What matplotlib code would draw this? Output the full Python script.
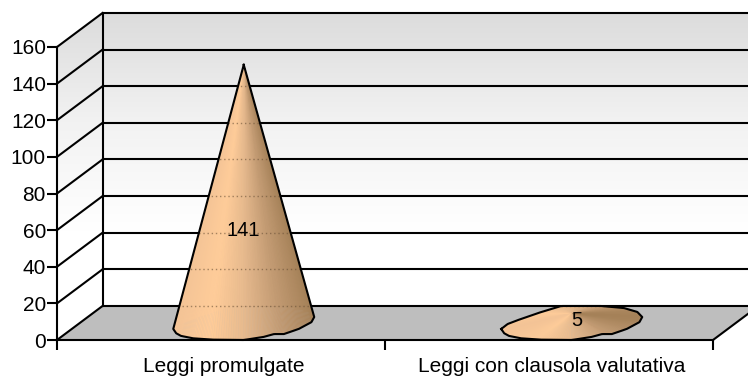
import numpy as np
import matplotlib
matplotlib.use('Agg')
import matplotlib.pyplot as plt
from matplotlib.colors import LinearSegmentedColormap
from matplotlib.patches import Polygon

plt.rcParams['font.family'] = ['Liberation Sans', 'DejaVu Sans']

# Data
categories = ['Leggi promulgate', 'Leggi con clausola valutativa']
values = [141, 5]
y_ticks = [0, 20, 40, 60, 80, 100, 120, 140, 160]

# Wobbly cone base (fractions of the base radii, going round)
base_u = [-1.0, -0.96, -0.89, -0.72, -0.45, 0.0, 0.28, 0.43, 0.57, 0.78, 0.96, 1.0,
          0.93, 0.74, 0.42, -0.15, -0.43, -0.72, -0.91]
base_v = [-0.35, -0.6, -0.76, -0.9, -0.98, -1.0, -0.82, -0.65, -0.65, -0.35, 0.05, 0.35,
          0.65, 0.88, 1.0, 1.0, 0.65, 0.24, -0.06]

W, H = 748, 378
LINE = 1.5

fig = plt.figure(figsize=(W / 100, H / 100), dpi=100)
ax = fig.add_axes([57 / W, 1 - 340 / H, (713 - 57) / W, (340 - 47) / H])
ax.set_xlim(0, 2)
ax.set_ylim(0, 160)

# 3D depth expressed in data units
depth_x = 45.5 / 328
depth_y = 34 / (293 / 160)
top = y_ticks[-1]

# Walls with the grey to white gradient
wall_cmap = LinearSegmentedColormap.from_list('wall', ['#ffffff', '#ffffff', '#f2f2f2', '#dcdcdc'])
gradient = np.linspace(1, 0, 256).reshape(-1, 1)
walls = [
    [(0, 0), (depth_x, depth_y), (depth_x, top + depth_y), (0, top)],
    [(depth_x, depth_y), (2 + depth_x, depth_y), (2 + depth_x, top + depth_y), (depth_x, top + depth_y)],
]
for wall in walls:
    im = ax.imshow(gradient, cmap=wall_cmap, vmin=0, vmax=1, aspect='auto', zorder=1,
                   extent=[0, 2 + depth_x, 0, top + depth_y])
    im.set_clip_box(fig.bbox)
    im.set_clip_path(Polygon(wall, transform=ax.transData))
ax.set_xlim(0, 2)
ax.set_ylim(0, 160)

# Floor
ax.add_patch(Polygon([(0, 0), (2, 0), (2 + depth_x, depth_y), (depth_x, depth_y)],
                     facecolor='#bebebe', edgecolor='none', zorder=2, clip_on=False))

# Grid on the side wall and back wall
for t in y_ticks:
    ax.plot([0, depth_x], [t, t + depth_y], color='black', lw=LINE, zorder=3, clip_on=False)
    ax.plot([depth_x, 2 + depth_x], [t + depth_y, t + depth_y], color='black', lw=LINE, zorder=3, clip_on=False)
ax.plot([depth_x, depth_x], [depth_y, top + depth_y], color='black', lw=LINE, zorder=3, clip_on=False)
ax.plot([2, 2 + depth_x], [0, depth_y], color='black', lw=LINE, zorder=3, clip_on=False)

# Cones
cone_cmap = LinearSegmentedColormap.from_list('cone', ['#f4c496', '#ffcc99', '#e6b98d', '#c49c74', '#a58158'])
radius_x = 70.5 / 328
radius_y = 17 / (293 / 160)

closed_u = np.array(base_u + base_u[:1])
closed_v = np.array(base_v + base_v[:1])
steps = np.arange(len(closed_u))
fine = np.linspace(0, len(base_u), 241)
outline_u = np.interp(fine, steps, closed_u)
outline_v = np.interp(fine, steps, closed_v)

for i, val in enumerate(values):
    cx = i + 0.5 + depth_x / 2
    cy = depth_y / 2
    apex = (cx, val + cy)
    xs = cx + outline_u * radius_x
    ys = cy + outline_v * radius_y
    # paint the back of the base first, the front last
    order = np.argsort(-outline_v[:-1])
    for k in order:
        tri = [apex, (xs[k], ys[k]), (xs[k + 1], ys[k + 1])]
        col = cone_cmap((outline_u[k] + 1) / 2)
        ax.add_patch(Polygon(tri, facecolor=col, edgecolor=col, lw=0.3, zorder=4, clip_on=False))

    # outline: visible silhouette only
    if val > 40:
        left = int(np.argmin(outline_u))
        right = int(np.argmax(outline_u))
        sil_x = [apex[0]] + list(xs[left:right + 1]) + [apex[0]]
        sil_y = [apex[1]] + list(ys[left:right + 1]) + [apex[1]]
    else:
        sil_x, sil_y = list(xs), list(ys)
    ax.plot(sil_x, sil_y, color='black', lw=LINE, zorder=6, clip_on=False, solid_joinstyle='round')
    clip_shape = Polygon(list(zip(sil_x, sil_y)), transform=ax.transData)

    # grid faintly showing through the cone
    for t in y_ticks:
        ln, = ax.plot([0, 2], [t + depth_y, t + depth_y], color='#6b5238', lw=1, ls=(0, (1, 2)),
                      alpha=0.6, zorder=5)
        ln.set_clip_box(fig.bbox)
        ln.set_clip_path(clip_shape)

# Value labels
ax.text(0.5 + depth_x / 2, 60, str(values[0]), ha='center', va='center', fontsize=14.5, color='black', zorder=7)
ax.text(1.5 + depth_x / 2 + 0.015, 10.5, str(values[1]), ha='center', va='center', fontsize=14.5, color='black', zorder=7)

# Axes
for s in ['top', 'right']:
    ax.spines[s].set_visible(False)
for s in ['left', 'bottom']:
    ax.spines[s].set_linewidth(LINE)
    ax.spines[s].set_zorder(8)
ax.set_yticks(y_ticks)
ax.set_xticks([0, 1, 2])
ax.set_xticklabels([])
ax.set_xticks([0.5 + depth_x / 20, 1.5 + depth_x / 20], labels=categories, minor=True)
ax.tick_params(axis='x', which='major', length=7, width=LINE)
ax.tick_params(axis='x', which='minor', length=0, pad=12, labelsize=15)
ax.tick_params(axis='y', length=7, width=LINE, pad=1, labelsize=15)
ax.patch.set_visible(False)

fig.savefig('out.png', dpi=100)
